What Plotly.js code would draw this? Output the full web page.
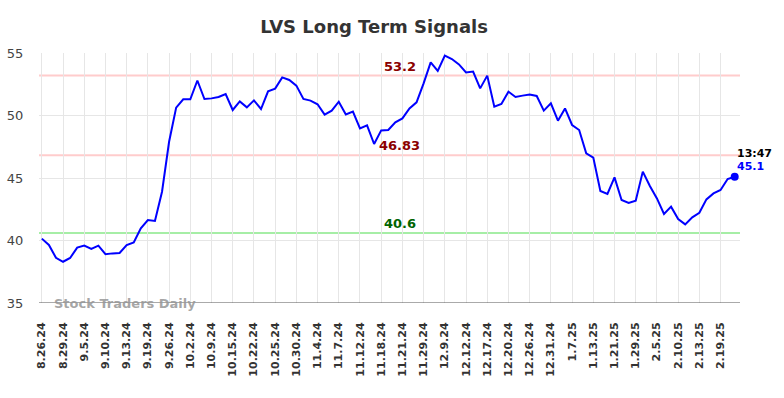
<!DOCTYPE html>
<html>
<head>
<meta charset="utf-8">
<script src="https://cdn.plot.ly/plotly-3.0.1.min.js"></script>
<style>html,body{margin:0;padding:0;background:#fff;}#chart{width:784px;height:398px;}</style>
</head>
<body>
<div id="chart"></div>
<script>
const tickLabels = ["8.26.24","8.29.24","9.5.24","9.10.24","9.13.24","9.19.24","9.26.24","10.2.24","10.9.24","10.15.24","10.22.24","10.25.24","10.30.24","11.4.24","11.7.24","11.12.24","11.18.24","11.21.24","11.29.24","12.9.24","12.12.24","12.17.24","12.20.24","12.26.24","12.31.24","1.7.25","1.13.25","1.21.25","1.29.25","2.5.25","2.10.25","2.13.25","2.19.25"];
const prices = [40.15,39.64,38.62,38.30,38.6,39.43,39.59,39.32,39.59,38.9,38.97,39.0,39.64,39.85,40.97,41.64,41.56,43.9,47.9,50.63,51.3,51.3,52.8,51.32,51.37,51.48,51.72,50.44,51.13,50.65,51.21,50.52,51.93,52.15,53.05,52.84,52.39,51.32,51.19,50.9,50.07,50.39,51.1,50.09,50.31,48.97,49.21,47.72,48.81,48.84,49.45,49.77,50.57,51.05,52.57,54.25,53.56,54.79,54.52,54.09,53.45,53.51,52.17,53.19,50.71,50.92,51.91,51.48,51.59,51.67,51.56,50.39,50.97,49.59,50.57,49.24,48.84,46.97,46.63,43.96,43.72,45.05,43.24,43.0,43.19,45.51,44.36,43.37,42.12,42.71,41.72,41.29,41.85,42.22,43.29,43.77,44.04,44.92,45.1];
const levels = [53.2, 46.83, 40.6];
const levelLabels = ["53.2", "46.83", "40.6"];
const lastTime = "13:47";
const lastLabel = "45.1";

const xs = prices.map((_, i) => i);
const tickVals = tickLabels.map((_, i) => i * 3);
const lineColors = ["#ffcccc", "#ffcccc", "#a6eea6"];
const textColors = ["#8b0000", "#8b0000", "#006400"];
const lastIdx = prices.length - 1;

const shapes = levels.map((v, k) => ({
  type: "line", xref: "paper", x0: 0, x1: 1, yref: "y", y0: v, y1: v,
  line: {color: lineColors[k], width: 2}, layer: "below"
}));

const annotations = levels.map((v, k) => ({
  x: 50.6, y: v, xref: "x", yref: "y", text: levelLabels[k], showarrow: false,
  yanchor: "bottom", yshift: 0,
  font: {family: "DejaVu Sans", size: 13, color: textColors[k], weight: "bold"}
}));
annotations.push({
  x: lastIdx, y: prices[lastIdx], xref: "x", yref: "y", text: lastTime, showarrow: false,
  xanchor: "left", yanchor: "middle", xshift: 0, yshift: 23,
  font: {family: "DejaVu Sans", size: 11, color: "#000", weight: "bold"}
});
annotations.push({
  x: lastIdx, y: prices[lastIdx], xref: "x", yref: "y", text: lastLabel, showarrow: false,
  xanchor: "left", yanchor: "middle", xshift: 0, yshift: 10,
  font: {family: "DejaVu Sans", size: 11, color: "#0000ff", weight: "bold"}
});
annotations.push({
  x: 0.019, y: 35, xref: "paper", yref: "y", text: "Stock Traders Daily", showarrow: false,
  xanchor: "left", yanchor: "middle",
  font: {family: "DejaVu Sans", size: 13, color: "rgba(150,150,150,0.85)", weight: "bold"}
});

const traces = [
  {x: xs, y: prices, type: "scatter", mode: "lines", line: {color: "#0000ff", width: 2}, hoverinfo: "skip"},
  {x: [lastIdx], y: [prices[lastIdx]], type: "scatter", mode: "markers", marker: {color: "#0000ff", size: 8}, hoverinfo: "skip"}
];

const layout = {
  width: 784, height: 398,
  margin: {l: 39, r: 44, t: 53, b: 95},
  paper_bgcolor: "#fff", plot_bgcolor: "#fff",
  showlegend: false,
  title: {text: "LVS Long Term Signals", x: 0.478, xanchor: "center", xref: "paper",
          y: 0.932, yanchor: "middle", yref: "container",
          font: {family: "DejaVu Sans", size: 18, color: "#333", weight: "bold"}},
  xaxis: {
    range: [-0.4, 98.75], tickmode: "array", tickvals: tickVals, ticktext: tickLabels,
    tickangle: -90, showgrid: true, gridcolor: "#e6e6e6", gridwidth: 1,
    zeroline: false, showline: false, ticks: "outside", ticklen: 14, tickcolor: "rgba(0,0,0,0)",
    tickfont: {family: "DejaVu Sans", size: 11, color: "#333", weight: "bold"}
  },
  yaxis: {
    range: [35, 55], tickvals: [35, 40, 45, 50, 55], showgrid: true, gridcolor: "#e6e6e6",
    zeroline: false, showline: false, ticks: "outside", ticklen: 12, tickcolor: "rgba(0,0,0,0)",
    tickfont: {family: "DejaVu Sans", size: 13, color: "#444"}
  },
  shapes: shapes.concat([{type: "line", xref: "paper", x0: 0, x1: 1, yref: "y", y0: 35, y1: 35,
    line: {color: "#555", width: 1}}]),
  annotations: annotations
};

Plotly.newPlot("chart", traces, layout, {staticPlot: true, displayModeBar: false});
</script>
</body>
</html>
